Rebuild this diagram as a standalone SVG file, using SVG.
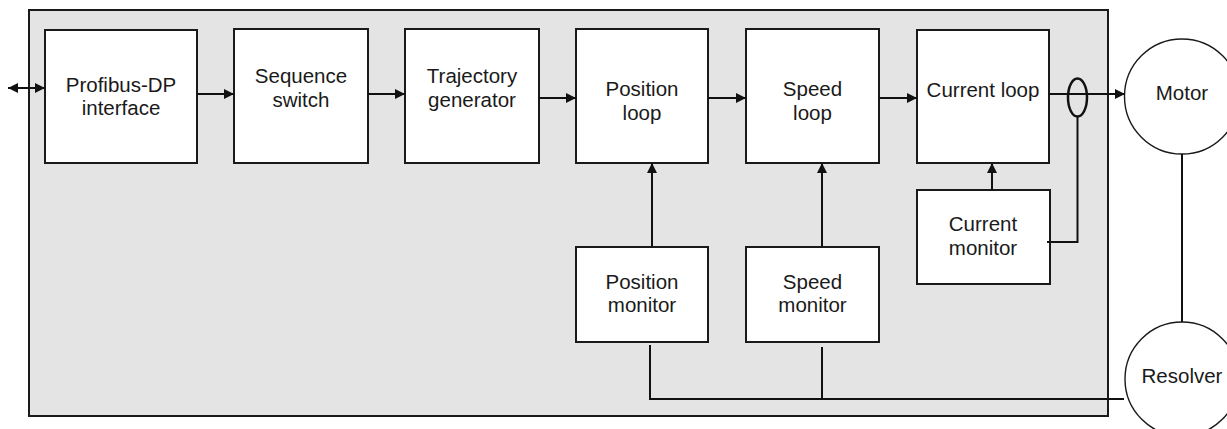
<svg xmlns="http://www.w3.org/2000/svg" width="1227" height="429" viewBox="0 0 1227 429">
<style>
.box{fill:#fff;stroke:#1a1a1a;stroke-width:2}
.circ{fill:#fff;stroke:#1a1a1a;stroke-width:1.4}
.ln{fill:none;stroke:#111;stroke-width:2}
.t{font-family:"Liberation Sans",Arial,sans-serif;font-size:20.5px;fill:#1a1a1a;text-anchor:middle}
</style>
<defs>
<marker id="ah" viewBox="0 0 10 10" refX="10" refY="5" markerWidth="11" markerHeight="10" markerUnits="userSpaceOnUse" orient="auto-start-reverse">
<path d="M0,0 L10,5 L0,10 z" fill="#111"/>
</marker>
</defs>
<rect id="frame" x="29" y="10" width="1079" height="406" fill="#e4e4e4" stroke="#1a1a1a" stroke-width="2"/>
<g id="profibus"><rect class="box" x="45" y="30" width="152" height="133"/><text class="t" x="121" y="92">Profibus-DP</text><text class="t" x="121" y="115">interface</text></g>
<g id="sequence"><rect class="box" x="234" y="29" width="134" height="134"/><text class="t" x="301" y="83">Sequence</text><text class="t" x="301" y="107">switch</text></g>
<g id="trajectory"><rect class="box" x="405" y="29" width="134" height="134"/><text class="t" x="472" y="83">Trajectory</text><text class="t" x="472" y="107">generator</text></g>
<g id="positionloop"><rect class="box" x="576" y="29" width="132" height="134"/><text class="t" x="642" y="96">Position</text><text class="t" x="642" y="120">loop</text></g>
<g id="speedloop"><rect class="box" x="746" y="29" width="133" height="134"/><text class="t" x="812.5" y="96">Speed</text><text class="t" x="812.5" y="120">loop</text></g>
<g id="currentloop"><rect class="box" x="917" y="30" width="132" height="133"/><text class="t" x="983" y="97">Current loop</text></g>
<g id="currentmonitor"><rect class="box" x="917" y="190" width="133" height="94"/><text class="t" x="983" y="231">Current</text><text class="t" x="983" y="255">monitor</text></g>
<g id="positionmonitor"><rect class="box" x="576" y="247" width="132" height="95"/><text class="t" x="642" y="289">Position</text><text class="t" x="642" y="312">monitor</text></g>
<g id="speedmonitor"><rect class="box" x="746" y="247" width="133" height="95"/><text class="t" x="812.5" y="289">Speed</text><text class="t" x="812.5" y="312">monitor</text></g>
<g id="motor"><circle class="circ" cx="1182" cy="96.5" r="57.5"/><text class="t" x="1182" y="100">Motor</text></g>
<g id="resolver"><circle class="circ" cx="1182" cy="379" r="57"/><text class="t" x="1182" y="383">Resolver</text></g>
<g id="connectors">
<line class="ln" x1="8" y1="88" x2="45" y2="88" marker-start="url(#ah)" marker-end="url(#ah)"/>
<line class="ln" x1="197" y1="94" x2="234" y2="94" marker-end="url(#ah)"/>
<line class="ln" x1="368" y1="94" x2="405" y2="94" marker-end="url(#ah)"/>
<line class="ln" x1="539" y1="98" x2="576" y2="98" marker-end="url(#ah)"/>
<line class="ln" x1="708" y1="98" x2="746" y2="98" marker-end="url(#ah)"/>
<line class="ln" x1="879" y1="98" x2="917" y2="98" marker-end="url(#ah)"/>
<line class="ln" x1="1049" y1="94" x2="1125" y2="94" marker-end="url(#ah)"/>
<ellipse cx="1077.5" cy="97.5" rx="9.5" ry="19" fill="none" stroke="#111" stroke-width="2.5"/>
<polyline class="ln" points="1077.5,117 1077.5,242 1047,242"/>
<line class="ln" x1="992" y1="190" x2="992" y2="163" marker-end="url(#ah)"/>
<line class="ln" x1="652" y1="247" x2="652" y2="163" marker-end="url(#ah)"/>
<line class="ln" x1="822" y1="247" x2="822" y2="163" marker-end="url(#ah)"/>
<line class="ln" x1="1182" y1="154" x2="1182" y2="322"/>
<polyline class="ln" points="650,345 650,399 1124,399"/>
<line class="ln" x1="822" y1="347" x2="822" y2="399"/>
</g>
</svg>
